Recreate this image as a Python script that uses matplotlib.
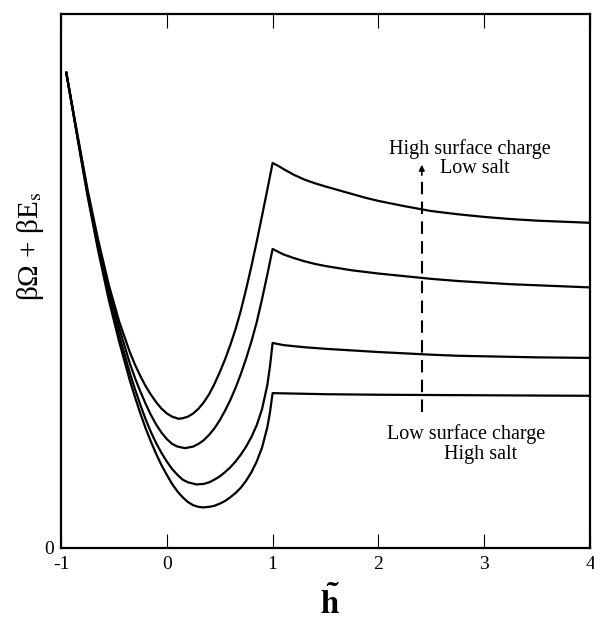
import numpy as np
import matplotlib
matplotlib.use('Agg')
import matplotlib.pyplot as plt

plt.rcParams['font.family'] = ['Liberation Serif', 'DejaVu Serif']
plt.rcParams['mathtext.fontset'] = 'stix'

# кривые: 1 - высокий заряд поверхности / мало соли, 4 - низкий заряд / много соли
h1 = [-0.95, -0.85, -0.75, -0.65, -0.55, -0.45, -0.35, -0.3, -0.25, -0.2, -0.15, -0.1, -0.05, 0.0,
      0.05, 0.11, 0.15, 0.2, 0.25, 0.3, 0.35, 0.4, 0.45, 0.5, 0.55, 0.6, 0.65, 0.7, 0.75, 0.8,
      0.85, 0.9, 0.95, 1.0,
      1.05, 1.1, 1.2, 1.3, 1.4, 1.5, 1.625, 1.75, 1.875, 2.0, 2.25, 2.5, 2.75, 3.0, 3.25, 3.5, 3.75, 4.0]
e1 = [8.90, 7.80, 6.72, 5.78, 4.94, 4.24, 3.67, 3.43, 3.22, 3.03, 2.87, 2.73, 2.61, 2.52,
      2.46, 2.42, 2.43, 2.46, 2.52, 2.61, 2.73, 2.88, 3.07, 3.29, 3.53, 3.80, 4.10, 4.45, 4.85, 5.28,
      5.74, 6.22, 6.71, 7.21,
      7.16, 7.10, 6.99, 6.90, 6.83, 6.77, 6.70, 6.63, 6.56, 6.50, 6.40, 6.31, 6.25, 6.20, 6.16, 6.13, 6.11, 6.09]

h2 = [-0.95, -0.85, -0.75, -0.65, -0.55, -0.45, -0.35, -0.3, -0.25, -0.2, -0.15, -0.1, -0.05, 0.0,
      0.05, 0.1, 0.17, 0.2, 0.25, 0.3, 0.35, 0.4, 0.45, 0.5, 0.55, 0.6, 0.65, 0.7, 0.75, 0.8,
      0.85, 0.9, 0.95, 1.0,
      1.05, 1.1, 1.2, 1.3, 1.4, 1.5, 1.625, 1.75, 1.875, 2.0, 2.25, 2.5, 2.75, 3.0, 3.25, 3.5, 3.75, 4.0]
e2 = [8.90, 7.78, 6.68, 5.71, 4.86, 4.12, 3.46, 3.18, 2.93, 2.70, 2.49, 2.31, 2.16, 2.04,
      1.95, 1.90, 1.87, 1.88, 1.90, 1.95, 2.02, 2.12, 2.24, 2.39, 2.57, 2.77, 3.00, 3.26, 3.55, 3.87,
      4.23, 4.66, 5.12, 5.60,
      5.55, 5.50, 5.43, 5.37, 5.32, 5.28, 5.24, 5.20, 5.17, 5.14, 5.09, 5.04, 5.00, 4.97, 4.94, 4.92, 4.90, 4.88]

h3 = [-0.95, -0.85, -0.75, -0.65, -0.55, -0.45, -0.35, -0.3, -0.25, -0.2, -0.15, -0.1, -0.05, 0.0,
      0.05, 0.1, 0.15, 0.2, 0.28, 0.35, 0.4, 0.45, 0.5, 0.55, 0.6, 0.65, 0.7, 0.75, 0.8,
      0.85, 0.9, 0.95, 0.975, 1.0,
      1.05, 1.1, 1.2, 1.3, 1.5, 1.75, 2.0, 2.25, 2.5, 2.75, 3.0, 3.5, 4.0]
e3 = [8.90, 7.76, 6.64, 5.63, 4.76, 3.98, 3.28, 2.97, 2.68, 2.41, 2.17, 1.96, 1.78, 1.62,
      1.48, 1.37, 1.28, 1.23, 1.19, 1.20, 1.23, 1.28, 1.34, 1.42, 1.51, 1.62, 1.75, 1.90, 2.08,
      2.30, 2.60, 3.05, 3.40, 3.84,
      3.82, 3.80, 3.78, 3.76, 3.73, 3.70, 3.67, 3.645, 3.62, 3.60, 3.59, 3.57, 3.56]

h4 = [-0.95, -0.85, -0.75, -0.65, -0.55, -0.45, -0.35, -0.3, -0.25, -0.2, -0.15, -0.1, -0.05, 0.0,
      0.05, 0.1, 0.15, 0.2, 0.25, 0.3, 0.34, 0.4, 0.45, 0.5, 0.55, 0.6, 0.65, 0.7, 0.75, 0.8,
      0.85, 0.9, 0.95, 0.975, 1.0,
      1.5, 2.0, 3.0, 4.0]
e4 = [8.90, 7.74, 6.60, 5.58, 4.66, 3.86, 3.14, 2.82, 2.52, 2.24, 1.99, 1.76, 1.55, 1.37,
      1.20, 1.06, 0.95, 0.86, 0.80, 0.77, 0.76, 0.77, 0.79, 0.83, 0.88, 0.95, 1.03, 1.13, 1.26, 1.42,
      1.62, 1.88, 2.26, 2.54, 2.90,
      2.88, 2.87, 2.86, 2.85]

arrow_x = 2.41
arrow_y = (2.55, 7.23)

fig = plt.figure(figsize=(5.94, 6.23), dpi=100)
ax = fig.add_axes([0.1027, 0.1204, 0.8906, 0.8571])

for h, e in ((h1, e1), (h2, e2), (h3, e3), (h4, e4)):
    ax.plot(h, e, color='black', lw=1.6)

# пунктирная стрелка
ax.plot([arrow_x, arrow_x], [arrow_y[0], arrow_y[1] - 0.25], color='black', lw=1.5, dashes=(6, 3.5))
ax.annotate('', xy=(arrow_x, arrow_y[1]), xytext=(arrow_x, arrow_y[1] - 0.3),
            arrowprops=dict(arrowstyle='-|>', color='black', lw=1.2, mutation_scale=8))

ax.text(2.86, 7.48, 'High surface charge', ha='center', va='center', fontsize=14.5)
ax.text(2.91, 7.10, 'Low salt', ha='center', va='center', fontsize=14.5)
ax.text(2.83, 2.13, 'Low surface charge', ha='center', va='center', fontsize=14.5)
ax.text(2.97, 1.76, 'High salt', ha='center', va='center', fontsize=14.5)

ax.set_xlim(-1, 4)
ax.set_ylim(0, 10)
ax.set_xticks([-1, 0, 1, 2, 3, 4])
ax.set_xticklabels(['-1', '0', '1', '2', '3', '4'])
ax.set_yticks([0])
ax.set_yticklabels(['0'])
ax.tick_params(axis='x', direction='in', length=10, width=0.8, top=True, labelsize=14, pad=6)
ax.tick_params(axis='y', length=0, labelsize=14, pad=5)
for s in ax.spines.values():
    s.set_linewidth(1.6)

fig.text(30 / 594, 1 - 246 / 623, r'βΩ + βE$_\mathrm{s}$', rotation=90, ha='center', va='center', fontsize=21)
fig.text(330 / 594, 1 - 603 / 623, r'$\mathbf{\tilde{h}}$', ha='center', va='center', fontsize=24)

fig.savefig('out.png', dpi=100)
